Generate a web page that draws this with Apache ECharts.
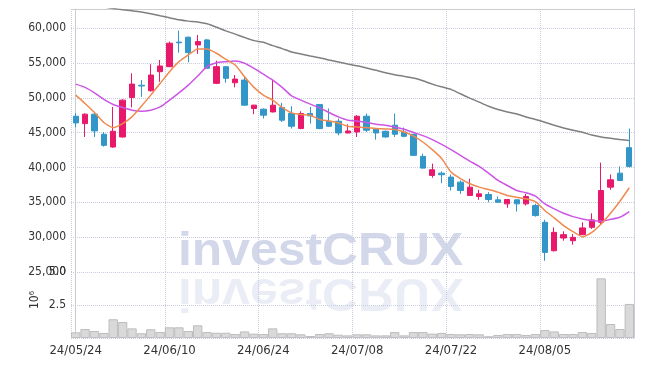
<!DOCTYPE html>
<html>
<head>
<meta charset="utf-8">
<script src="https://cdn.jsdelivr.net/npm/echarts@6/dist/echarts.min.js"></script>
<style>
  html, body { margin: 0; padding: 0; background: #fff; }
  #chart { width: 645px; height: 366px; }
</style>
</head>
<body>
<div id="chart"></div>
<script>
const dates = ['24/05/24','24/05/27','24/05/28','24/05/29','24/05/30','24/05/31','24/06/03','24/06/04','24/06/05','24/06/07',
  '24/06/10','24/06/11','24/06/12','24/06/13','24/06/14','24/06/17','24/06/18','24/06/19','24/06/20','24/06/21',
  '24/06/24','24/06/25','24/06/26','24/06/27','24/06/28','24/07/01','24/07/02','24/07/03','24/07/04','24/07/05',
  '24/07/08','24/07/09','24/07/10','24/07/11','24/07/12','24/07/15','24/07/16','24/07/17','24/07/18','24/07/19',
  '24/07/22','24/07/23','24/07/24','24/07/25','24/07/26','24/07/29','24/07/30','24/07/31','24/08/01','24/08/02',
  '24/08/05','24/08/06','24/08/07','24/08/08','24/08/09','24/08/12','24/08/13','24/08/14','24/08/16','24/08/19'];

const opens = [47360,46300,47650,44770,42940,44380,50060,51800,51010,53750,
  54470,58000,58700,57590,58310,52080,54470,52160,52550,48470,
  48370,47980,48620,47750,45590,47750,49050,46640,46640,44960,
  45100,47360,45490,45200,46070,45100,44770,41600,38860,39190,
  38620,37900,35980,35840,36120,35360,34780,35360,34780,34540,
  32130,28050,29880,29490,30360,31410,32130,37180,39190,42850];
const closes = [46400,47650,45250,43180,45200,49670,51970,51700,53270,54570,
  57840,57900,56480,58070,54240,54470,52800,52690,48950,48950,
  47510,48950,46790,45920,47750,47410,45590,45920,44960,45240,
  47360,45350,44960,44380,44770,44480,41740,39910,39680,38960,
  37280,36700,37180,36220,35400,35010,35400,34780,35840,33100,
  27810,30690,30360,29970,31330,32480,36700,38240,38140,40160];
const lows = [45780,44380,44380,43000,42820,44300,48620,50140,50900,52300,
  54400,56480,55100,56300,54200,51970,52160,51500,48900,47650,
  47030,47900,46540,45590,45500,46310,45490,45800,44630,44900,
  44380,45100,44000,44300,44380,44340,41700,39850,38530,37750,
  36700,36220,35900,35360,35010,35000,34210,33670,34540,32950,
  26610,27950,29490,28920,30300,31180,31900,36800,38100,40000];
const highs = [47800,47790,47800,45100,48700,49800,53520,52550,54810,55430,
  58070,59650,58800,59030,58460,55330,54500,53270,53130,49000,
  48500,52550,49280,48800,48080,48700,49100,48470,47030,46210,
  47510,47750,45500,45300,47750,45730,44850,41990,40550,39440,
  39000,38140,38390,36800,36460,35840,35500,35400,36220,34800,
  32500,31410,30840,30460,32130,33430,40690,39000,40160,45590];

const ma5 = [50390,49190,47900,46460,45730,46310,47260,48800,50390,52080,
  53750,55190,56150,57020,57020,56400,55530,54710,53030,51500,
  50390,49670,48620,47840,47610,47510,46890,46690,46400,45920,
  45820,45730,45590,45530,45450,45100,44500,43660,42560,41300,
  39340,38390,37660,37180,36840,36460,35980,35730,35500,35110,
  33820,32770,31660,30790,30070,30690,31900,33430,35160,37090];
const ma20 = [51970,51500,50720,49770,49050,48620,48230,48080,48230,48700,
  49670,50720,51830,53130,54470,55040,55190,55290,54960,54240,
  53410,52550,51500,50290,49670,49090,48560,47900,47260,46790,
  46690,46460,46210,46070,45820,45490,45030,44580,44010,43330,
  42560,41740,40920,40160,39190,38140,37420,36700,36370,35880,
  34780,34060,33430,32950,32620,32380,32280,32560,32850,33670];
const ma60 = [63700,63480,63250,63040,62830,62640,62490,62310,62060,61770,
  61480,61200,61010,60870,60620,60140,59610,59140,58650,58210,
  57980,57490,57060,56590,56300,56010,55760,55430,55140,54860,
  54610,54280,53950,53600,53310,53080,52840,52450,51970,51580,
  51210,50580,49960,49380,48800,48330,47980,47690,47260,46890,
  46500,46070,45680,45350,45060,44670,44380,44190,44010,43860];

const volumes = [430000,680000,530000,380000,1420000,1210000,730000,360000,660000,450000,
  810000,810000,530000,960000,450000,400000,400000,300000,500000,330000,
  300000,730000,360000,360000,280000,150000,300000,360000,250000,200000,
  280000,280000,200000,200000,450000,200000,450000,450000,330000,380000,
  300000,280000,300000,280000,130000,230000,300000,300000,230000,300000,
  600000,500000,300000,300000,450000,380000,4520000,1060000,680000,2580000];

const chart = echarts.init(document.getElementById('chart'));

const candleData = opens.map((o, i) => [o, closes[i], lows[i], highs[i]]);
const FONT = "'DejaVu Sans Condensed', 'DejaVu Sans', sans-serif";
const gridLine = { color: '#c9cde0', type: 'dotted', width: 1 };
const everyTen = idx => idx % 10 === 0;
const WM_FONT = "bold 47px 'Liberation Sans'";

// helper axis in "day index" units, only used for the vertical grid lines on labelled days
const dayGridAxis = gi => ({
  type: 'value', gridIndex: gi, min: -0.5, max: dates.length - 0.5, interval: 10,
  axisLine: { show: false }, axisTick: { show: false }, axisLabel: { show: false },
  splitLine: { show: true, lineStyle: gridLine }
});

const option = {
  animation: false,
  backgroundColor: '#fff',
  grid: [
    { left: 71, right: 11, top: 9, height: 263 },
    { left: 71, right: 11, top: 272, height: 66 }
  ],
  graphic: [
    {
      type: 'text', x: 178, y: 276, z: 0, scaleX: 1.06,
      style: { text: 'investCRUX', font: WM_FONT, fill: '#d2d7ea', verticalAlign: 'bottom' }
    },
    {
      type: 'text', x: 178, y: 276, z: 0, scaleX: 1.06, scaleY: -1, originY: -4,
      style: { text: 'investCRUX', font: WM_FONT, fill: '#d2d7ea', verticalAlign: 'bottom', opacity: 0.45 }
    },
    {
      type: 'text', x: 35, y: 300, rotation: Math.PI / 2,
      style: { text: '10\u2076', font: "12px 'DejaVu Sans Condensed', 'DejaVu Sans'", fill: '#333', align: 'center', verticalAlign: 'middle' }
    }
  ],
  xAxis: [
    {
      type: 'category', gridIndex: 0, data: dates, position: 'top',
      axisLine: { show: true, lineStyle: { color: '#cccccc' } },
      axisTick: { show: false },
      axisLabel: { show: false },
      splitLine: { show: false }
    },
    {
      type: 'category', gridIndex: 1, data: dates,
      axisLine: { show: false },
      axisTick: { show: false },
      axisLabel: { interval: everyTen, color: '#333', fontFamily: FONT, fontSize: 13, margin: 6 },
      splitLine: { show: false }
    },
    dayGridAxis(0),
    dayGridAxis(1)
  ],
  yAxis: [
    {
      type: 'value', gridIndex: 0, min: 25000, max: 62750, interval: 5000,
      axisLine: { show: true, lineStyle: { color: '#cccccc' } },
      axisTick: { show: false },
      axisLabel: {
        color: '#333', fontFamily: FONT, fontSize: 12, margin: 5, showMaxLabel: false,
        formatter: v => v.toLocaleString('en-US')
      },
      splitLine: { lineStyle: gridLine }
    },
    {
      type: 'value', gridIndex: 1, min: 0, max: 5000000, interval: 2500000,
      axisLine: { show: true, lineStyle: { color: '#cccccc' } },
      axisTick: { show: false },
      axisLabel: {
        color: '#333', fontFamily: FONT, fontSize: 12, margin: 5,
        formatter: v => v === 0 ? '' : (v / 1e6).toFixed(1)
      },
      splitLine: { lineStyle: gridLine }
    },
    {
      type: 'value', gridIndex: 0, position: 'right', min: 25000, max: 62750,
      axisLine: { show: true, lineStyle: gridLine },
      axisTick: { show: false }, axisLabel: { show: false }, splitLine: { show: false }
    },
    {
      type: 'value', gridIndex: 1, position: 'right', min: 0, max: 5000000,
      axisLine: { show: true, lineStyle: gridLine },
      axisTick: { show: false }, axisLabel: { show: false }, splitLine: { show: false }
    }
  ],
  series: [
    {
      name: 'MA60', type: 'line', xAxisIndex: 0, yAxisIndex: 0, data: ma60,
      showSymbol: false, smooth: 0.2, lineStyle: { color: '#7f7f7f', width: 1.5 }, z: 3
    },
    {
      name: 'candle', type: 'candlestick', xAxisIndex: 0, yAxisIndex: 0, data: candleData,
      barWidth: '62%',
      itemStyle: { color: '#e8196b', color0: '#3296c8', borderColor: '#e8196b', borderColor0: '#3296c8', borderWidth: 1 },
      z: 4
    },
    {
      name: 'MA20', type: 'line', xAxisIndex: 0, yAxisIndex: 0, data: ma20,
      showSymbol: false, smooth: 0.2, lineStyle: { color: '#cc55e6', width: 1.5 }, z: 5
    },
    {
      name: 'MA5', type: 'line', xAxisIndex: 0, yAxisIndex: 0, data: ma5,
      showSymbol: false, smooth: 0.2, lineStyle: { color: '#ef8a50', width: 1.5 }, z: 6
    },
    {
      name: 'volume', type: 'bar', xAxisIndex: 1, yAxisIndex: 1, data: volumes,
      barWidth: '100%',
      itemStyle: { color: '#d9d9d9', borderColor: '#bdbdbd', borderWidth: 1 }
    }
  ]
};

chart.setOption(option);
</script>
</body>
</html>
